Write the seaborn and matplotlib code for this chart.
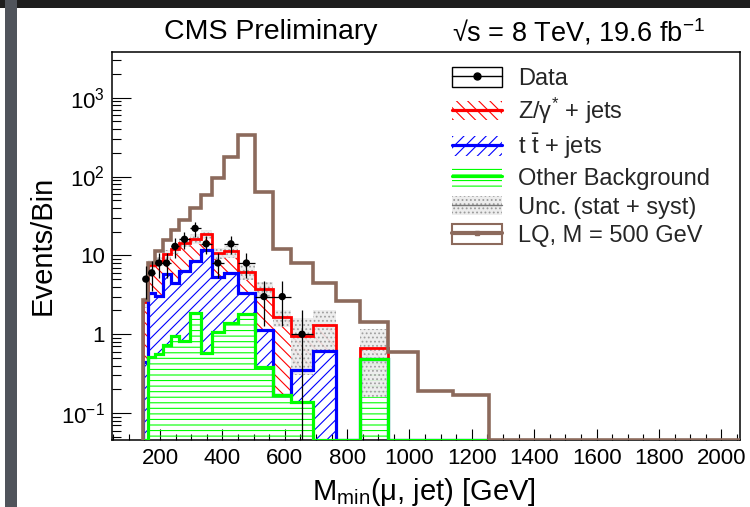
import numpy as np
import pandas as pd
import matplotlib
matplotlib.use("Agg")
import matplotlib.pyplot as plt
import seaborn as sns
from matplotlib.patches import Rectangle
from matplotlib.lines import Line2D
from matplotlib.ticker import FixedLocator, MultipleLocator, NullFormatter, LogLocator, FixedFormatter

# ---- binning and yields -------------------------------------------------
bin_edges = [146, 163, 184, 208, 234, 262, 295, 330, 366, 405, 450,
             504, 563, 621, 690, 763, 840, 930, 1026, 1138, 1256]
data_events = [5, 6, 8, 8, 13, 16, 22, 14, 8, 14, 8, 3, 3, 1, 0, 0, 0, 0, 0, 0]
zjets = [2.1, 4.2, 5.4, 4.6, 7.5, 8.2, 7.8, 6.8, 5.4, 5.3, 2.9, 2.6,
         1.46, 0.6, 0.69, 0.0, 0.17, 0.0, 0.0, 0.0]
ttbar = [0.44, 2.8, 2.5, 5.0, 3.5, 5.5, 6.6, 11.1, 4.3, 4.6, 1.5, 0.74,
         0.0, 0.21, 0.61, 0.0, 0.0, 0.0, 0.0, 0.0]
other = [0.0, 0.51, 0.56, 0.73, 0.95, 0.82, 1.88, 0.57, 1.07, 1.38, 1.79,
         0.38, 0.17, 0.14, 0.0, 0.0, 0.49, 0.0, 0.0, 0.0]
bkg_unc = [0.4, 1.1, 1.2, 1.4, 1.6, 1.9, 2.3, 2.5, 1.8, 2.0, 1.3, 0.9,
           0.4, 0.65, 0.7, 0.0, 0.5, 0.0, 0.0, 0.0]
lq_edges = bin_edges + [2060]
lq_500 = [2.7, 8.0, 11.5, 15.5, 21.0, 28.0, 40.0, 59.0, 96.0, 177.0, 333.0,
          63.0, 11.9, 8.1, 4.5, 2.64, 1.43, 0.60, 0.19, 0.17, 0.0]

x_ticks = [200, 400, 600, 800, 1000, 1200, 1400, 1600, 1800, 2000]
y_ticks = [0.1, 1, 10, 100, 1000]
y_tick_labels = [r"10$^{-1}$", "1", "10", r"10$^{2}$", r"10$^{3}$"]
x_range = (46, 2060)
y_range = (0.0455, 3800)

# ---- style --------------------------------------------------------------
sns.set_theme(style="ticks")
plt.rcParams["font.family"] = ["Liberation Sans", "DejaVu Sans"]
plt.rcParams["mathtext.fontset"] = "custom"
plt.rcParams["mathtext.rm"] = "Liberation Sans"
plt.rcParams["mathtext.it"] = "Liberation Sans:italic"
plt.rcParams["mathtext.bf"] = "Liberation Sans:bold"
plt.rcParams["hatch.linewidth"] = 0.8

RED, BLUE, GREEN = "#ff0000", "#0000ff", "#00ff00"
BROWN = "#8c6a5c"
GREY = "#9a9a9a"

W, H = 750, 507
fig = plt.figure(figsize=(W / 100, H / 100), dpi=100)
fig.patch.set_facecolor("white")

# screen frame around the canvas
fig.add_artist(Rectangle((0, 1 - 8 / H), 1, 8 / H, transform=fig.transFigure,
                         facecolor="#1e1e1e", edgecolor="none"))
fig.add_artist(Rectangle((5 / W, 0), 12 / W, 1, transform=fig.transFigure,
                         facecolor="#50545b", edgecolor="none"))

x0, x1, yb, yt = 112, 740, 440, 52
ax = fig.add_axes([x0 / W, 1 - yb / H, (x1 - x0) / W, (yb - yt) / H])
ax.set_yscale("log")
ax.set_xlim(*x_range)
ax.set_ylim(*y_range)

edges = np.array(bin_edges, dtype=float)
floor = y_range[0]

lvl_other = np.array(other)
lvl_tt = lvl_other + np.array(ttbar)
lvl_tot = lvl_tt + np.array(zjets)

# hatched stack layers
layers = [
    (lvl_tt, lvl_tot, RED, "\\\\\\"),
    (lvl_other, lvl_tt, BLUE, "///"),
    (np.zeros_like(lvl_other), lvl_other, GREEN, "---"),
]
for low, high, col, hatch in layers:
    lo = np.maximum(low, floor)
    hi = np.maximum(high, floor)
    ax.stairs(hi, edges, baseline=lo, fill=True, facecolor="none",
              edgecolor=col, hatch=hatch, linewidth=0, zorder=2)

# stat + syst band
unc = np.array(bkg_unc)
band_hi = np.where(unc > 0, lvl_tot + unc, floor)
band_lo = np.where(unc > 0, np.maximum(lvl_tot - unc, floor), floor)
ax.stairs(band_hi, edges, baseline=band_lo, fill=True, facecolor="#ececec",
          edgecolor=GREY, hatch="....", linewidth=0, zorder=3, alpha=0.9)

# stack outlines
for lvl, col, lw in [(lvl_tot, RED, 2.0), (lvl_tt, BLUE, 2.3), (lvl_other, GREEN, 2.3)]:
    ax.stairs(np.maximum(lvl, floor), edges, baseline=floor, color=col,
              linewidth=lw, zorder=4)

# signal
ax.stairs(np.maximum(np.array(lq_500), floor), np.array(lq_edges, dtype=float),
          baseline=floor, color=BROWN, linewidth=2.6, zorder=5)

# data points
centers = 0.5 * (edges[:-1] + edges[1:])
halfw = 0.5 * np.diff(edges)
df = pd.DataFrame({"x": centers, "n": data_events, "xerr": halfw})
df = df[df["n"] > 0]
ax.errorbar(df["x"], df["n"], xerr=df["xerr"], yerr=np.sqrt(df["n"]),
            fmt="none", ecolor="black", elinewidth=0.9, capsize=0, zorder=6)
sns.scatterplot(data=df, x="x", y="n", ax=ax, color="black", s=28,
                edgecolor="none", zorder=7, legend=False)

# axes styling
ax.xaxis.set_major_locator(FixedLocator(x_ticks))
ax.xaxis.set_minor_locator(MultipleLocator(50))
ax.yaxis.set_major_locator(FixedLocator(y_ticks))
ax.yaxis.set_major_formatter(FixedFormatter(y_tick_labels))
ax.yaxis.set_minor_locator(LogLocator(base=10, subs=np.arange(2, 10), numticks=20))
ax.yaxis.set_minor_formatter(NullFormatter())
ax.tick_params(axis="both", which="both", direction="in", top=False, right=False,
               colors="black", width=0.8)
ax.tick_params(axis="x", which="major", length=8, labelsize=16, pad=6)
ax.tick_params(axis="x", which="minor", length=4)
ax.tick_params(axis="y", which="major", length=13.5, labelsize=16, pad=5)
ax.tick_params(axis="y", which="minor", length=6.5)
for sp in ax.spines.values():
    sp.set_color("black")
    sp.set_linewidth(1.1)
ax.set_xlabel("")
ax.set_ylabel("")

fig.text(424 / W, 1 - 492 / H, r"M$_{\rm min}$(μ, jet) [GeV]", ha="center",
         va="center", fontsize=21, color="black")
fig.text(43 / W, 1 - 245 / H, "Events/Bin", rotation=90, ha="center",
         va="center", fontsize=21, color="black")
fig.text(271 / W, 1 - 32 / H, "CMS Preliminary", ha="center", va="center",
         fontsize=20.5, color="black")
fig.text(578 / W, 1 - 32 / H, r"√s = 8 TeV, 19.6 fb$^{-1}$",
         ha="center", va="center", fontsize=19.5, color="black")

# legend
handles = [
    (Rectangle((0, 0), 1, 1, facecolor="white", edgecolor="black", linewidth=1.0),
     Line2D([], [], color="black", linewidth=1.0, marker="o", markersize=5)),
    (Rectangle((0, 0), 1, 1, facecolor="none", edgecolor=RED, hatch="\\\\\\", linewidth=0),
     Line2D([], [], color=RED, linewidth=2.3)),
    (Rectangle((0, 0), 1, 1, facecolor="none", edgecolor=BLUE, hatch="///", linewidth=0),
     Line2D([], [], color=BLUE, linewidth=2.3)),
    (Rectangle((0, 0), 1, 1, facecolor="none", edgecolor=GREEN, hatch="---", linewidth=0),
     Line2D([], [], color=GREEN, linewidth=2.3)),
    (Rectangle((0, 0), 1, 1, facecolor="#ececec", edgecolor=GREY, hatch="....", linewidth=0),
     Line2D([], [], color="#777777", linewidth=1.0)),
    (Rectangle((0, 0), 1, 1, facecolor="white", edgecolor=BROWN, linewidth=1.5),
     Line2D([], [], color=BROWN, linewidth=3.0, marker="s", markersize=3)),
]
labels = ["Data", r"Z/γ$^{*}$ + jets", r"t $\bar{\rm t}$ + jets",
          "Other Background", "Unc. (stat + syst)", "LQ, M = 500 GeV"]
fig.legend(handles, labels, loc="upper left", bbox_to_anchor=(452 / W, 1 - 67 / H),
           bbox_transform=fig.transFigure, frameon=False, fontsize=17,
           handlelength=2.1, handleheight=0.9, handletextpad=0.7,
           labelspacing=0.245, borderpad=0, borderaxespad=0)

fig.savefig("out.png", dpi=100)
